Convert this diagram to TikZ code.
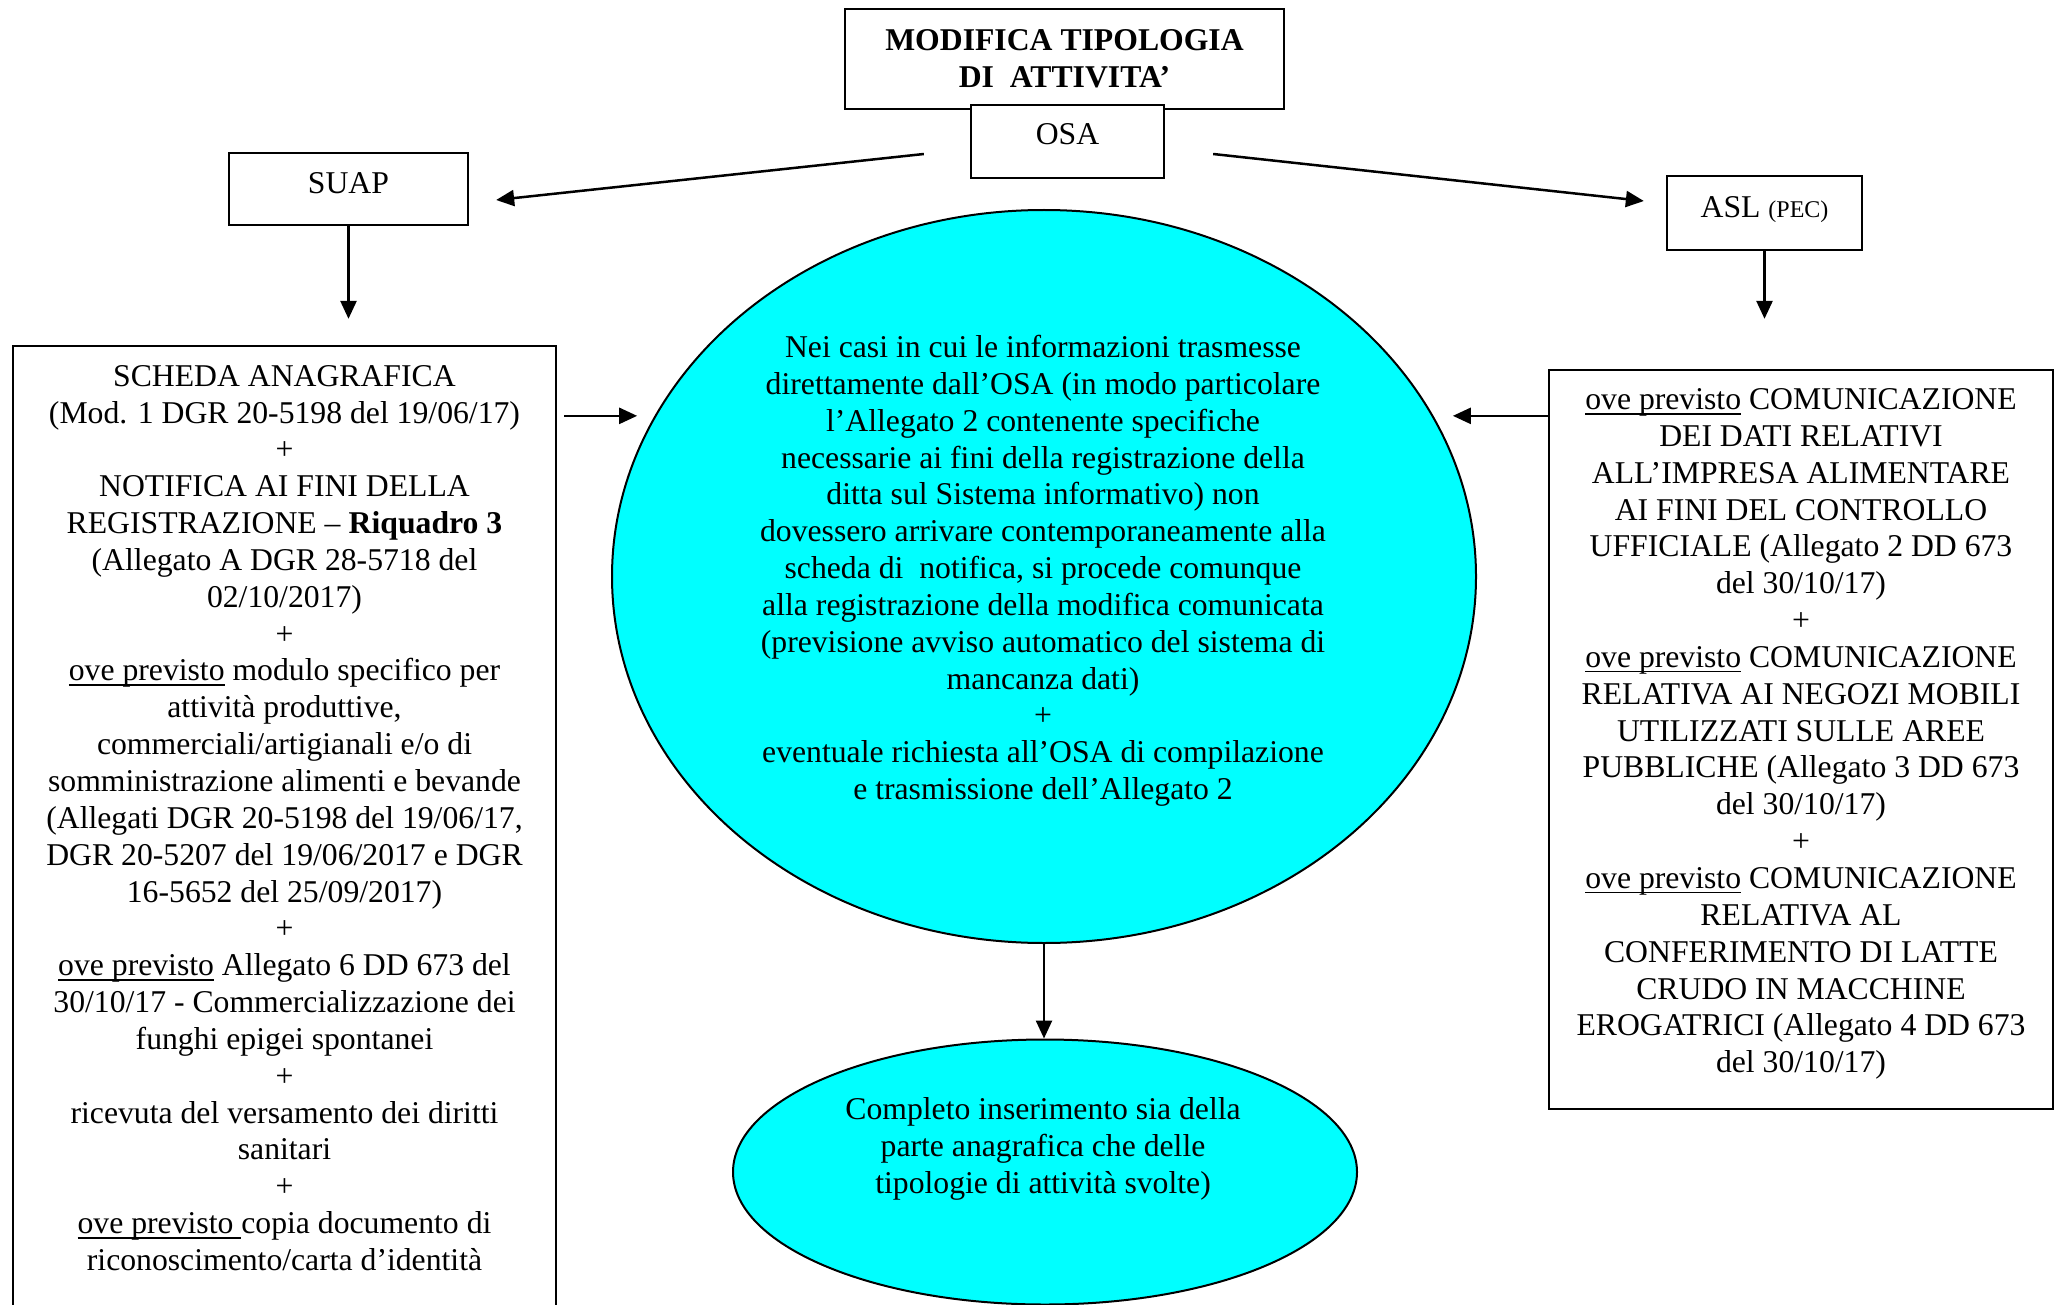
\documentclass[tikz,border=0pt]{standalone}
\usepackage{fontspec}
\setmainfont{Liberation Serif}
\usetikzlibrary{shapes.geometric,arrows.meta,calc}
\definecolor{aqua}{HTML}{00FFFF}
\newcommand{\tf}{\fontsize{31.7}{36.84}\selectfont}
\newsavebox{\ulbox}
\newcommand{\myul}[1]{\sbox{\ulbox}{#1}\rlap{\rule[-5pt]{\wd\ulbox}{1.8pt}}\usebox{\ulbox}}
\begin{document}
\begin{tikzpicture}[x=1pt,y=-1pt,
  box/.style={draw, line width=2.3pt, rectangle, inner sep=0pt, fill=white, align=center, font=\tf},
  oval/.style={draw, line width=2pt, ellipse, fill=aqua, inner sep=0pt},
  txt/.style={align=center, inner sep=0pt, font=\tf},
  arr/.style={line width=2.5pt, -{Triangle[length=18pt,width=16pt]}},
]
\clip (0,0) rectangle (2063,1305);
\useasboundingbox (0,0) rectangle (2063,1305);
\fill[white] (0,0) rectangle (2063,1305);

% top boxes
\node[box, minimum width=439pt, minimum height=100pt, font=\tf\bfseries] (title) at (1064.5,59) {MODIFICA TIPOLOGIA\\DI~~ATTIVITA’};
\node[box, minimum width=193pt, minimum height=73pt, text height=21pt, text depth=15pt] (osa) at (1067.5,141.5) {OSA};
\node[box, minimum width=239pt, minimum height=72pt, text height=21pt, text depth=12pt] (suap) at (348.5,189) {SUAP};
\node[box, minimum width=195pt, minimum height=74pt, text height=21pt, text depth=12pt] (asl) at (1764.5,213) {ASL {\fontsize{24}{28}\selectfont(PEC)}};

% left box
\node[box, minimum width=543pt, minimum height=1000pt] (lbox) at (284.5,846) {};
\node[txt] (ltext) at (284.5,818) {SCHEDA ANAGRAFICA\\
(Mod. 1 DGR 20-5198 del 19/06/17)\\
+\\
NOTIFICA AI FINI DELLA\\
REGISTRAZIONE – \textbf{Riquadro 3}\\
(Allegato A DGR 28-5718 del\\
02/10/2017)\\
+\\
\myul{ove previsto} modulo specifico per\\
attività produttive,\\
commerciali/artigianali e/o di\\
somministrazione alimenti e bevande\\
(Allegati DGR 20-5198 del 19/06/17,\\
DGR 20-5207 del 19/06/2017 e DGR\\
16-5652 del 25/09/2017)\\
+\\
\myul{ove previsto} Allegato 6 DD 673 del\\
30/10/17 - Commercializzazione dei\\
funghi epigei spontanei\\
+\\
ricevuta del versamento dei diritti\\
sanitari\\
+\\
\myul{ove previsto\ }copia documento di\\
riconoscimento/carta d’identità};

% right box
\node[box, minimum width=504pt, minimum height=739pt] (rbox) at (1801,739.5) {};
\node[txt] (rtext) at (1801,734) {\myul{ove previsto} COMUNICAZIONE\\
DEI DATI RELATIVI\\
ALL’IMPRESA ALIMENTARE\\
AI FINI DEL CONTROLLO\\
UFFICIALE (Allegato 2 DD 673\\
del 30/10/17)\\
+\\
\myul{ove previsto} COMUNICAZIONE\\
RELATIVA AI NEGOZI MOBILI\\
UTILIZZATI SULLE AREE\\
PUBBLICHE (Allegato 3 DD 673\\
del 30/10/17)\\
+\\
\myul{ove previsto} COMUNICAZIONE\\
RELATIVA AL\\
CONFERIMENTO DI LATTE\\
CRUDO IN MACCHINE\\
EROGATRICI (Allegato 4 DD 673\\
del 30/10/17)};

% ellipses
\node[oval, minimum width=864pt, minimum height=733pt] (big) at (1044,576.5) {};
\node[txt] (bigtext) at (1043,570.8) {Nei casi in cui le informazioni trasmesse\\
direttamente dall’OSA (in modo particolare\\
l’Allegato 2 contenente specifiche\\
necessarie ai fini della registrazione della\\
ditta sul Sistema informativo) non\\
dovessero arrivare contemporaneamente alla\\
scheda di\ \ notifica, si procede comunque\\
alla registrazione della modifica comunicata\\
(previsione avviso automatico del sistema di\\
mancanza dati)\\
+\\
eventuale richiesta all’OSA di compilazione\\
e trasmissione dell’Allegato 2};

\node[oval, minimum width=624pt, minimum height=265pt] (small) at (1045,1172) {};
\node[txt] (smalltext) at (1043,1149) {Completo inserimento sia della\\
parte anagrafica che delle\\
tipologie di attività svolte)};

% connectors
\draw[arr] ($(osa.west)+(-46,12.5)$) -- ($(suap.east)+(27,11)$);
\draw[arr] ($(osa.east)+(48,12.5)$) -- ($(asl.west)+(-22,-12)$);
\draw[arr, shorten >=26pt] (suap.south) -- (suap.south |- lbox.north);
\draw[arr, shorten >=50pt] (asl.south) -- (asl.south |- rbox.north);
\draw[arr] ($(lbox.north east)+(7,71)$) -- ++(73,0);
\draw[arr] ($(rbox.north west)+(0,47)$) -- ++(-95,0);
\draw[arr] (big.south) -- (big.south |- small.north);
\end{tikzpicture}
\end{document}
